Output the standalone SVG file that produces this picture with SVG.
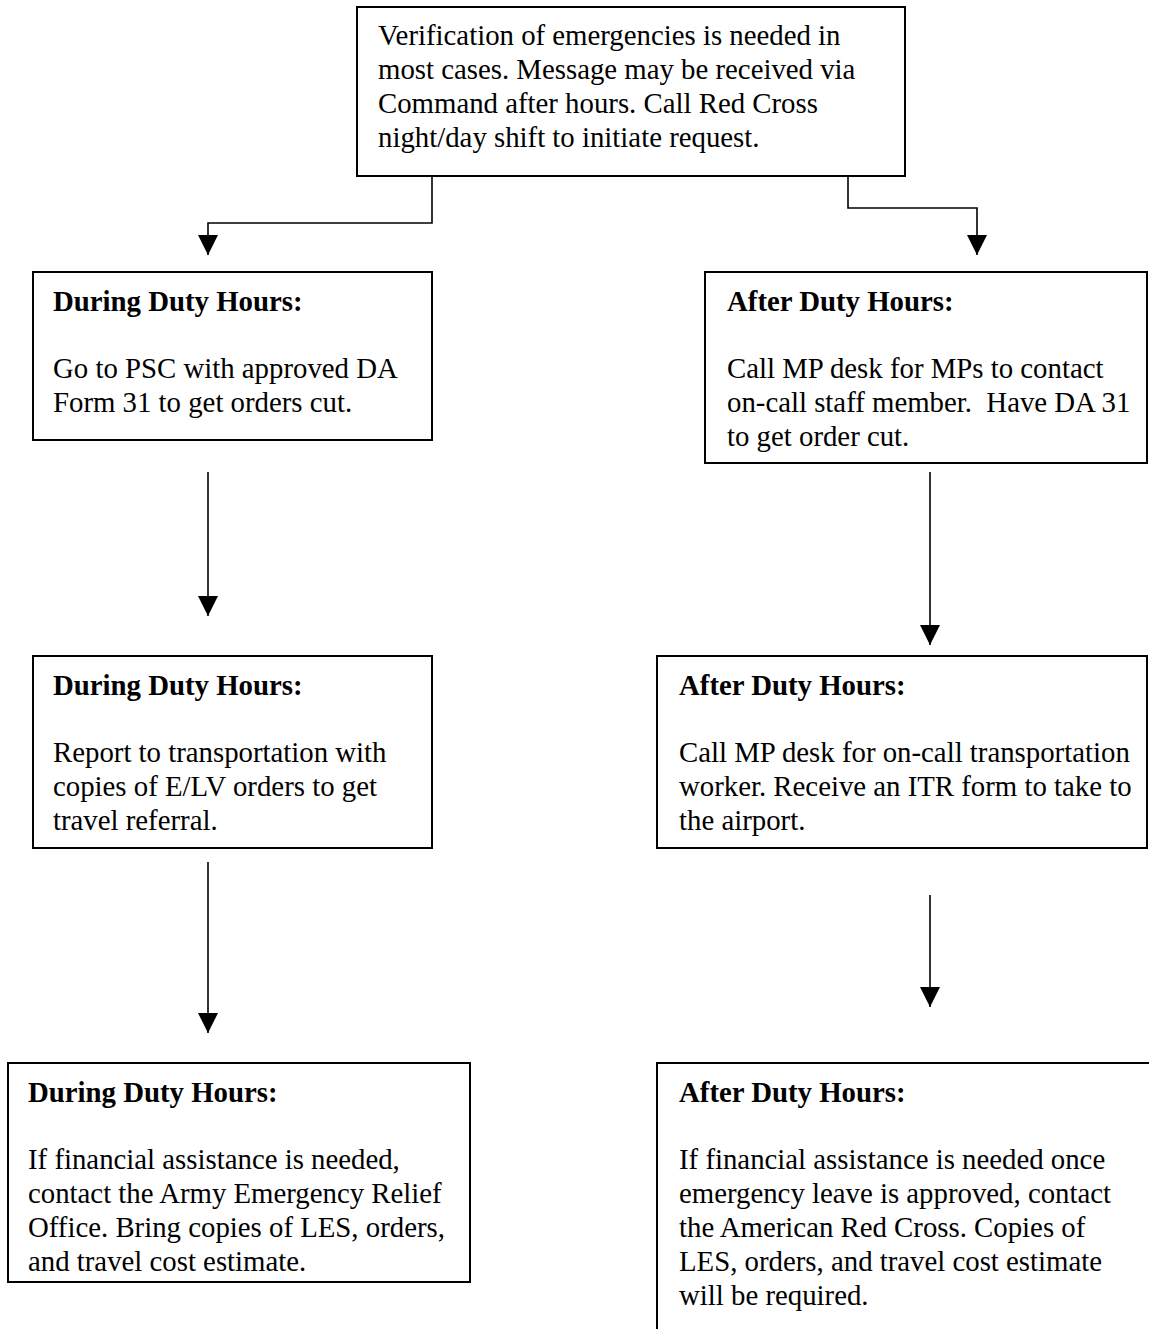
<svg xmlns="http://www.w3.org/2000/svg" width="1149" height="1329" viewBox="0 0 1149 1329">
  <style>
    .box { fill: #ffffff; stroke: #000000; stroke-width: 2; }
    .txt { font-family: "Liberation Serif", "Times New Roman", serif; font-size: 28.8px; fill: #000000; }
    .hd { font-weight: bold; }
    .conn { fill: none; stroke: #000000; stroke-width: 1.6; }
  </style>
  <defs>
    <marker id="arrow" markerUnits="userSpaceOnUse" markerWidth="20" markerHeight="20" refX="20" refY="10" orient="auto">
      <path d="M0,0 L20,10 L0,20 Z" fill="#000000"/>
    </marker>
  </defs>
  <rect width="1149" height="1329" fill="#ffffff"/>

  <!-- connectors -->
  <g id="connectors">
    <path class="conn" d="M432,176 V223 H208 V255" marker-end="url(#arrow)"/>
    <path class="conn" d="M848,176 V208 H977 V255" marker-end="url(#arrow)"/>
    <path class="conn" d="M208,472 V616" marker-end="url(#arrow)"/>
    <path class="conn" d="M930,472 V645" marker-end="url(#arrow)"/>
    <path class="conn" d="M208,862 V1033" marker-end="url(#arrow)"/>
    <path class="conn" d="M930,895 V1007" marker-end="url(#arrow)"/>
  </g>

  <!-- start: verification -->
  <g id="verify">
    <rect class="box" x="357" y="7" width="548" height="169"/>
    <text class="txt" x="378" y="45">Verification of emergencies is needed in</text>
    <text class="txt" x="378" y="79">most cases. Message may be received via</text>
    <text class="txt" x="378" y="113">Command after hours. Call Red Cross</text>
    <text class="txt" x="378" y="147">night/day shift to initiate request.</text>
  </g>

  <!-- during duty hours: orders -->
  <g id="during-orders">
    <rect class="box" x="33" y="272" width="399" height="168"/>
    <text class="txt hd" x="53" y="311">During Duty Hours:</text>
    <text class="txt" x="53" y="378">Go to PSC with approved DA</text>
    <text class="txt" x="53" y="412">Form 31 to get orders cut.</text>
  </g>

  <!-- after duty hours: orders -->
  <g id="after-orders">
    <rect class="box" x="705" y="272" width="442" height="191"/>
    <text class="txt hd" x="727" y="311">After Duty Hours:</text>
    <text class="txt" x="727" y="378">Call MP desk for MPs to contact</text>
    <text class="txt" x="727" y="412">on-call staff member.&#160; Have DA 31</text>
    <text class="txt" x="727" y="446">to get order cut.</text>
  </g>

  <!-- during duty hours: transportation -->
  <g id="during-transport">
    <rect class="box" x="33" y="656" width="399" height="192"/>
    <text class="txt hd" x="53" y="695">During Duty Hours:</text>
    <text class="txt" x="53" y="762">Report to transportation with</text>
    <text class="txt" x="53" y="796">copies of E/LV orders to get</text>
    <text class="txt" x="53" y="830">travel referral.</text>
  </g>

  <!-- after duty hours: transportation -->
  <g id="after-transport">
    <rect class="box" x="657" y="656" width="490" height="192"/>
    <text class="txt hd" x="679" y="695">After Duty Hours:</text>
    <text class="txt" x="679" y="762">Call MP desk for on-call transportation</text>
    <text class="txt" x="679" y="796">worker. Receive an ITR form to take to</text>
    <text class="txt" x="679" y="830">the airport.</text>
  </g>

  <!-- during duty hours: financial assistance -->
  <g id="during-finance">
    <rect class="box" x="8" y="1063" width="462" height="219"/>
    <text class="txt hd" x="28" y="1102">During Duty Hours:</text>
    <text class="txt" x="28" y="1169">If financial assistance is needed,</text>
    <text class="txt" x="28" y="1203">contact the Army Emergency Relief</text>
    <text class="txt" x="28" y="1237">Office. Bring copies of LES, orders,</text>
    <text class="txt" x="28" y="1271">and travel cost estimate.</text>
  </g>

  <!-- after duty hours: financial assistance -->
  <g id="after-finance">
    <rect class="box" x="657" y="1063" width="520" height="290"/>
    <text class="txt hd" x="679" y="1102">After Duty Hours:</text>
    <text class="txt" x="679" y="1169">If financial assistance is needed once</text>
    <text class="txt" x="679" y="1203">emergency leave is approved, contact</text>
    <text class="txt" x="679" y="1237">the American Red Cross. Copies of</text>
    <text class="txt" x="679" y="1271">LES, orders, and travel cost estimate</text>
    <text class="txt" x="679" y="1305">will be required.</text>
  </g>
</svg>
